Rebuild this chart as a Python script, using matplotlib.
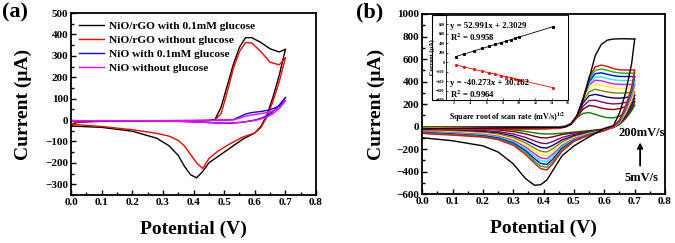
import numpy as np
import matplotlib.pyplot as plt
from matplotlib.patches import Rectangle

plt.rcParams['font.family'] = ['Liberation Serif', 'DejaVu Serif']
plt.rcParams['font.weight'] = 'bold'
plt.rcParams['mathtext.fontset'] = 'stix'

# ---------------- panel (a) data ----------------
Ef_a = [0, 0.02, 0.1, 0.2, 0.3, 0.4, 0.45, 0.47, 0.49, 0.51, 0.53, 0.55, 0.57, 0.59, 0.62, 0.65, 0.68, 0.7]
Er_a = [0.7, 0.68, 0.66, 0.64, 0.62, 0.6, 0.56, 0.52, 0.48, 0.45, 0.43, 0.41, 0.39, 0.37, 0.35, 0.32, 0.28, 0.2, 0.1, 0]

labels_a = ['NiO/rGO with 0.1mM glucose', 'NiO/rGO without glucose',
            'NiO with 0.1mM glucose', 'NiO without glucose']
colors_a = ['black', '#ff0000', '#0000ff', '#ff00ff']

fwd_a = [
    [-28, -10, -6, -5, -4, -3, -2, 2, 60, 160, 260, 340, 385, 385, 362, 333, 318, 330],
    [-20, -8, -5, -4, -3, -3, -2, 0, 30, 130, 240, 320, 362, 360, 320, 270, 258, 290],
    [-3, -3, -3, -3, -3, -2, -2, -1, 0, 0, 2, 15, 28, 35, 40, 48, 65, 105],
    [-3, -3, -3, -3, -3, -2, -2, -1, 0, 0, 1, 8, 18, 24, 30, 38, 55, 90],
]
rev_a = [
    [330, 210, 110, 25, -30, -60, -90, -130, -170, -200, -240, -270, -255, -215, -165, -120, -85, -52, -34, -28],
    [290, 180, 90, 15, -35, -60, -80, -110, -145, -180, -226, -200, -160, -120, -95, -75, -62, -45, -30, -20],
    [105, 70, 40, 20, 8, 0, -10, -15, -14, -12, -10, -9, -8, -7, -6, -5, -5, -4, -3, -3],
    [90, 55, 30, 15, 5, -2, -10, -14, -13, -11, -10, -9, -8, -7, -6, -6, -5, -4, -3, -3],
]

# ---------------- panel (b) data ----------------
Ef_b = [0, 0.1, 0.2, 0.3, 0.4, 0.45, 0.47, 0.49, 0.51, 0.53, 0.55, 0.57, 0.59, 0.61, 0.63, 0.65, 0.67, 0.7]
Er_b = [0.7, 0.69, 0.67, 0.65, 0.63, 0.6, 0.55, 0.5, 0.46, 0.43, 0.41, 0.39, 0.37, 0.34, 0.3, 0.25, 0.2, 0.1, 0]

# 5 mV/s ... 100 mV/s, then 200 mV/s (black)
colors_b = ['#008000', '#800000', '#800080', '#000080', '#808000', '#ffff00',
            '#ff00ff', '#00ffff', '#0000ff', '#00c000', '#ff0000', 'black']

fwd_b = [
    [-2, -2, -2, -1, -1, 0, 3, 30, 80, 118, 125, 110, 92, 80, 78, 92, 128, 190],
    [-5, -5, -4, -3, -3, -1, 2, 28, 85, 155, 188, 180, 165, 155, 152, 160, 180, 220],
    [-8, -7, -6, -5, -4, -2, 2, 28, 90, 180, 232, 235, 220, 208, 202, 205, 215, 250],
    [-10, -9, -8, -7, -6, -3, 1, 28, 95, 210, 275, 287, 275, 262, 255, 253, 258, 280],
    [-12, -11, -10, -8, -7, -4, 1, 28, 100, 230, 310, 332, 320, 308, 300, 298, 300, 305],
    [-15, -13, -12, -10, -8, -5, 0, 27, 100, 245, 345, 375, 368, 355, 345, 340, 340, 342],
    [-18, -16, -14, -12, -10, -6, 0, 26, 100, 250, 370, 412, 408, 392, 380, 376, 375, 375],
    [-20, -18, -16, -14, -12, -8, -1, 25, 95, 250, 380, 440, 442, 428, 416, 411, 410, 410],
    [-22, -20, -18, -16, -14, -10, -2, 24, 90, 250, 400, 470, 478, 465, 452, 446, 445, 445],
    [-25, -23, -21, -19, -17, -12, -3, 22, 85, 250, 420, 500, 512, 500, 485, 477, 475, 475],
    [-28, -26, -24, -22, -20, -15, -5, 20, 80, 250, 440, 530, 547, 535, 515, 505, 503, 503],
    [-20, -15, -12, -10, -8, -5, -2, 20, 100, 240, 430, 630, 730, 768, 778, 780, 780, 778],
]
rev_b = [
    [190, 140, 70, 20, -5, -20, -35, -48, -58, -64, -65, -62, -55, -42, -29, -19, -12, -8, -5],
    [220, 160, 80, 22, -6, -23, -40, -55, -70, -90, -100, -97, -85, -64, -43, -29, -22, -16, -12],
    [250, 180, 90, 24, -7, -26, -46, -68, -96, -132, -150, -145, -126, -95, -64, -44, -34, -26, -20],
    [280, 200, 100, 27, -6, -28, -52, -80, -118, -166, -190, -184, -160, -121, -82, -56, -44, -33, -25],
    [305, 220, 112, 30, -5, -30, -56, -90, -136, -195, -225, -218, -190, -143, -97, -66, -52, -40, -30],
    [342, 245, 125, 35, -4, -31, -60, -98, -152, -220, -255, -248, -215, -162, -110, -76, -60, -47, -35],
    [375, 270, 140, 40, -3, -32, -64, -106, -168, -246, -285, -277, -240, -180, -122, -85, -68, -54, -40],
    [410, 290, 150, 45, -2, -33, -67, -113, -180, -268, -310, -302, -262, -196, -133, -92, -74, -60, -45],
    [445, 310, 160, 50, 0, -34, -70, -120, -192, -290, -335, -326, -284, -212, -144, -100, -80, -65, -50],
    [475, 330, 170, 55, 0, -35, -72, -125, -205, -310, -360, -350, -305, -228, -155, -108, -86, -70, -55],
    [503, 350, 180, 60, 0, -35, -75, -130, -220, -330, -384, -372, -325, -245, -165, -115, -92, -75, -60],
    [778, 560, 300, 120, 10, -15, -90, -170, -260, -390, -475, -515, -520, -460, -330, -225, -170, -125, -98],
]

# inset: peak current vs square root of scan rate
sqrt_rate = [2.24, 3.16, 4.47, 5.48, 6.32, 7.07, 7.75, 8.37, 8.94, 9.49, 10.0, 14.14]
ipa = [121, 170, 239, 293, 337, 377, 413, 446, 476, 505, 532, 752]
ipc = [-60, -97, -150, -191, -224, -254, -282, -307, -330, -352, -373, -539]

fig = plt.figure(figsize=(6.75, 2.43), dpi=100)

def style_axes(ax):
    ax.tick_params(axis='both', which='both', direction='in', top=False, right=False,
                   labelsize=8, width=1.0, pad=2)
    ax.tick_params(which='major', length=3.5)
    ax.tick_params(which='minor', length=2)
    for s in ax.spines.values():
        s.set_linewidth(1.3)
    for t in ax.get_xticklabels() + ax.get_yticklabels():
        t.set_fontweight('bold')

# ---------------- (a) ----------------
ax1 = fig.add_axes([0.1052, 0.1975, 0.3630, 0.7490])
for f, r, c, lab in zip(fwd_a, rev_a, colors_a, labels_a):
    ax1.plot(Ef_a, f, color=c, lw=1.0, label=lab)
    ax1.plot(Er_a, r, color=c, lw=1.0)
ax1.set_xlim(0, 0.8)
ax1.set_ylim(-350, 500)
ax1.set_xticks(np.arange(0, 0.81, 0.1))
ax1.set_xticks(np.arange(0.05, 0.8, 0.1), minor=True)
ax1.set_yticks(np.arange(-300, 501, 100))
ax1.set_yticks(np.arange(-350, 500, 100), minor=True)
ax1.set_xticklabels([f'{v:.1f}' for v in np.arange(0, 0.81, 0.1)])
style_axes(ax1)
ax1.set_xlabel('Potential (V)', fontsize=14, fontweight='bold')
ax1.set_ylabel('Current (μA)', fontsize=14, fontweight='bold')
ax1.xaxis.set_label_coords(0.5, -0.14)
ax1.yaxis.set_label_coords(-0.16, 0.5)
leg = ax1.legend(loc='upper left', frameon=False, handlelength=2.2,
                 handletextpad=0.4, labelspacing=0.35, borderaxespad=0.3,
                 prop={'weight': 'bold', 'size': 8.2})
fig.text(0.003, 0.99, '(a)', fontsize=16, fontweight='bold', ha='left', va='top')

# ---------------- (b) ----------------
ax2 = fig.add_axes([0.6256, 0.2004, 0.3596, 0.7420])
for f, r, c in zip(fwd_b, rev_b, colors_b):
    ax2.plot(Ef_b, f, color=c, lw=1.0)
    ax2.plot(Er_b, r, color=c, lw=1.0)
ax2.set_xlim(0, 0.8)
ax2.set_ylim(-600, 1000)
ax2.set_xticks(np.arange(0, 0.81, 0.1))
ax2.set_xticks(np.arange(0.05, 0.8, 0.1), minor=True)
ax2.set_yticks(np.arange(-600, 1001, 200))
ax2.set_yticks(np.arange(-500, 1000, 200), minor=True)
ax2.set_xticklabels([f'{v:.1f}' for v in np.arange(0, 0.81, 0.1)])
style_axes(ax2)
ax2.set_xlabel('Potential (V)', fontsize=14, fontweight='bold')
ax2.set_ylabel('Current (μA)', fontsize=14, fontweight='bold')
ax2.xaxis.set_label_coords(0.5, -0.14)
ax2.yaxis.set_label_coords(-0.155, 0.5)
ax2.text(0.723, -56, '200mV/s', fontsize=9, fontweight='bold', ha='center', va='center')
ax2.text(0.723, -455, '5mV/s', fontsize=9, fontweight='bold', ha='center', va='center')
ax2.annotate('', xy=(0.718, -115), xytext=(0.718, -370),
             arrowprops=dict(arrowstyle='-|>', color='black', lw=1.3, mutation_scale=8))
fig.text(0.528, 0.99, '(b)', fontsize=16, fontweight='bold', ha='left', va='top')

# inset
fig.patches.append(Rectangle((0.6396, 0.5885), 0.2019, 0.3498, transform=fig.transFigure,
                             facecolor='white', edgecolor='black', lw=0.8, zorder=2))
axi = fig.add_axes([0.6607, 0.5885, 0.1807, 0.3498], zorder=3)
axi.plot(sqrt_rate, ipa, color='black', lw=0.6, marker='s', ms=1.2)
axi.plot(sqrt_rate, ipc, color='#ff0000', lw=0.6, marker='o', ms=1.2)
axi.set_xlim(1, 16)
axi.set_ylim(-800, 1000)
axi.set_xticks(np.arange(2, 17, 2))
axi.set_yticks(np.arange(-800, 1001, 200))
axi.tick_params(axis='both', direction='in', labelsize=3.0, length=1.5, width=0.5, pad=1)
for s in axi.spines.values():
    s.set_linewidth(0.6)
axi.set_ylabel('Current (μA)', fontsize=4.5, fontweight='bold', labelpad=1)
axi.set_xlabel(r'Square root of scan rate (mV/s)$^{\mathbf{1/2}}$', fontsize=5.8,
               fontweight='bold', labelpad=4)
axi.text(0.03, 0.87, 'y = 52.991x + 2.3029', transform=axi.transAxes, fontsize=6.3,
         fontweight='bold', va='center')
axi.text(0.03, 0.74, r'R$^{\mathbf{2}}$ = 0.9958', transform=axi.transAxes, fontsize=6.3,
         fontweight='bold', va='center')
axi.text(0.03, 0.20, 'y = -40.273x + 30.162', transform=axi.transAxes, fontsize=6.3,
         fontweight='bold', va='center')
axi.text(0.03, 0.07, r'R$^{\mathbf{2}}$ = 0.9964', transform=axi.transAxes, fontsize=6.3,
         fontweight='bold', va='center')

fig.savefig('out.png', dpi=100)
